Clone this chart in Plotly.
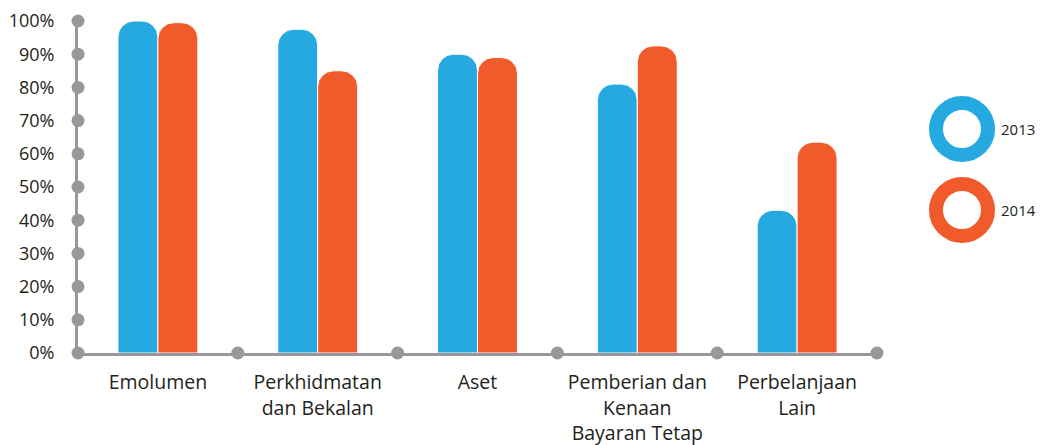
import plotly.graph_objects as go

categories = ["Emolumen", "Perkhidmatan<br>dan Bekalan", "Aset", "Pemberian dan<br>Kenaan<br>Bayaran Tetap", "Perbelanjaan<br>Lain"]
values_2013 = [100, 97.5, 90, 81, 43]
values_2014 = [99.5, 85, 89, 92.5, 63.5]
y_ticks = [0, 10, 20, 30, 40, 50, 60, 70, 80, 90, 100]
y_labels = [f"{v}%" for v in y_ticks]
series_names = ["2013", "2014"]

BLUE = "#25A9E0"
ORANGE = "#F15A2B"
GREY = "#98989B"
TEXT = "#231F20"
FONT = "Open Sans"

xi = list(range(len(categories)))

fig = go.Figure()
for name, vals, col in [(series_names[0], values_2013, BLUE), (series_names[1], values_2014, ORANGE)]:
    fig.add_trace(go.Bar(
        x=xi, y=vals, name=name,
        marker=dict(color=col, line=dict(color="white", width=1), cornerradius=16),
        showlegend=False, hoverinfo="skip",
    ))

# axis dots
fig.add_trace(go.Scatter(
    x=[-0.5] * len(y_ticks), y=y_ticks, mode="markers",
    marker=dict(color=GREY, size=13), cliponaxis=False,
    showlegend=False, hoverinfo="skip",
))
fig.add_trace(go.Scatter(
    x=[i + 0.5 for i in xi], y=[0] * len(xi), mode="markers",
    marker=dict(color=GREY, size=13), cliponaxis=False,
    showlegend=False, hoverinfo="skip",
))

OFF = 8  # page body margin
W, H = 1043 - OFF, 445 - OFF
L, R, T, B = 78 - OFF, 166, 21 - OFF, 92
pw = W - L - R
ph = H - T - B

def px_to_paper_x(px):
    return (px - OFF - L) / pw

def px_to_paper_y(py):
    return (H - B - (py - OFF)) / ph

shapes = []
annotations = []
for name, col, cy in [(series_names[0], BLUE, 129), (series_names[1], ORANGE, 210)]:
    cx = 962
    r = 26
    shapes.append(dict(
        type="circle", xref="paper", yref="paper",
        x0=px_to_paper_x(cx - r), x1=px_to_paper_x(cx + r),
        y0=px_to_paper_y(cy + r), y1=px_to_paper_y(cy - r),
        line=dict(color=col, width=14), fillcolor="white", layer="above",
    ))
    annotations.append(dict(
        text=name, xref="paper", yref="paper",
        x=px_to_paper_x(999), y=px_to_paper_y(cy),
        xanchor="left", yanchor="middle", showarrow=False,
        font=dict(family=FONT, size=15, color=TEXT),
    ))

fig.update_layout(
    width=W, height=H,
    margin=dict(l=L, r=R, t=T, b=B),
    paper_bgcolor="white", plot_bgcolor="white",
    barmode="group", bargap=0.5, bargroupgap=0,
    shapes=shapes, annotations=annotations,
    font=dict(family=FONT, color=TEXT),
)
fig.update_xaxes(
    range=[-0.5, 4.5], tickvals=xi, ticktext=categories,
    showline=True, linecolor=GREY, linewidth=3,
    showgrid=False, zeroline=False, ticks="",
    tickfont=dict(family=FONT, size=19.5, color=TEXT),
    ticklabelstandoff=10, automargin=False, ticklabeloverflow="allow",
)
fig.update_yaxes(
    range=[0, 100], tickvals=y_ticks, ticktext=y_labels,
    showline=True, linecolor=GREY, linewidth=3,
    showgrid=False, zeroline=False, ticks="",
    tickfont=dict(family=FONT, size=18, color=TEXT),
    ticklabelstandoff=17, automargin=False, ticklabeloverflow="allow",
)

fig.write_html("out.html")
